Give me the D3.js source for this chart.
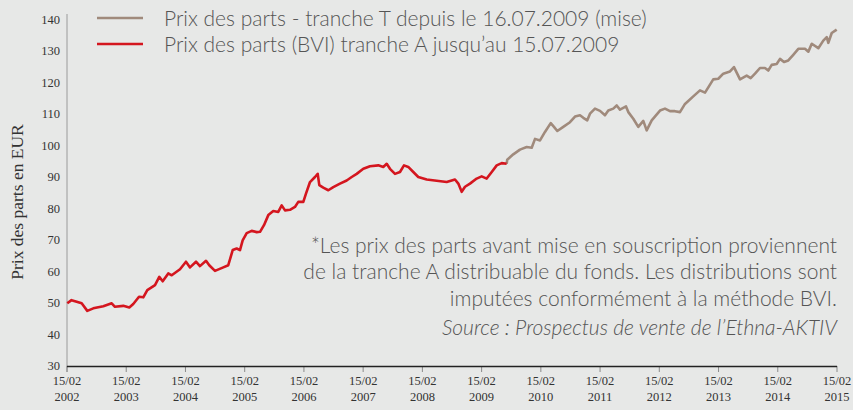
<!DOCTYPE html>
<html><head><meta charset="utf-8">
<script src="https://cdn.jsdelivr.net/npm/d3@7"></script>
<style>
html,body{margin:0;padding:0;background:#e7e8e7;}
svg{display:block;}
</style></head>
<body>
<svg id="chart" width="853" height="410"></svg>
<script>
// ---- Data (decimal years, values in EUR) ----
const redYears = [2002.128,2002.20,2002.287,2002.371,2002.466,2002.567,2002.736,2002.878,2002.933,2003.074,2003.175,2003.242,2003.339,2003.411,2003.479,2003.609,2003.681,2003.739,2003.833,2003.891,2004.031,2004.132,2004.200,2004.301,2004.368,2004.470,2004.525,2004.622,2004.762,2004.846,2004.921,2004.988,2005.044,2005.089,2005.157,2005.241,2005.326,2005.382,2005.449,2005.522,2005.606,2005.690,2005.748,2005.804,2005.888,2005.972,2006.028,2006.113,2006.158,2006.226,2006.310,2006.356,2006.383,2006.450,2006.535,2006.619,2006.732,2006.845,2006.930,2007.014,2007.126,2007.239,2007.379,2007.463,2007.521,2007.576,2007.661,2007.745,2007.813,2007.885,2007.970,2008.054,2008.196,2008.365,2008.534,2008.674,2008.730,2008.787,2008.843,2008.927,2009.040,2009.124,2009.209,2009.294,2009.378,2009.462,2009.546];
const redValues = [49.9,50.9,50.4,49.9,47.5,48.3,49.0,49.9,48.8,49.1,48.6,49.7,52.0,51.8,54.1,55.7,58.3,56.9,59.4,58.8,60.7,63.1,61.3,63.1,61.7,63.4,62.0,60.2,61.3,62.0,66.8,67.3,66.8,69.9,72.2,72.9,72.5,72.6,74.7,77.9,79.2,78.9,81.0,79.4,79.6,80.5,82.1,82.1,84.7,88.4,90.0,91.0,87.4,86.6,85.8,86.8,87.9,88.9,90.0,91.0,92.6,93.4,93.7,93.2,94.2,92.6,91.0,91.6,93.7,93.2,91.6,90.0,89.2,88.8,88.4,89.2,87.9,85.3,86.9,87.9,89.5,90.2,89.5,91.6,93.7,94.4,94.2];
const brownYears = [2009.546,2009.556,2009.658,2009.771,2009.884,2009.969,2010.025,2010.109,2010.193,2010.290,2010.345,2010.401,2010.502,2010.615,2010.700,2010.784,2010.840,2010.907,2010.953,2011.037,2011.122,2011.206,2011.262,2011.346,2011.404,2011.459,2011.561,2011.600,2011.684,2011.768,2011.853,2011.910,2011.995,2012.135,2012.219,2012.304,2012.388,2012.472,2012.557,2012.697,2012.810,2012.895,2013.034,2013.119,2013.203,2013.317,2013.384,2013.486,2013.598,2013.666,2013.739,2013.823,2013.907,2013.963,2014.021,2014.105,2014.161,2014.228,2014.301,2014.385,2014.470,2014.583,2014.640,2014.697,2014.808,2014.892,2014.950,2014.977,2015.034,2015.118];
const brownValues = [94.2,95.5,97.2,98.7,99.5,99.3,102.1,101.6,104.3,107.1,105.9,104.6,105.9,107.4,109.2,109.6,108.8,108.0,110.1,111.7,111.0,109.6,111.1,111.7,112.7,111.4,112.4,110.6,108.5,105.9,107.8,104.8,108.0,111.1,111.7,110.9,110.9,110.6,113.2,115.6,117.5,116.8,121.0,121.2,122.8,123.5,124.9,121.0,122.2,121.4,122.8,124.6,124.6,123.8,125.6,125.9,127.5,126.5,127.0,128.8,130.7,130.7,129.8,132.3,130.9,133.3,134.4,132.6,135.7,136.8];
const tickYears = [2002,2003,2004,2005,2006,2007,2008,2009,2010,2011,2012,2013,2014,2015];
const tickDay = "15/02";
const yTicks = [30,40,50,60,70,80,90,100,110,120,130,140];
const legendLabels = ["Prix des parts - tranche T depuis le 16.07.2009 (mise)", "Prix des parts (BVI) tranche A jusqu\u2019au 15.07.2009"];
const noteLines = ["*Les prix des parts avant mise en souscription proviennent", "de la tranche A distribuable du fonds. Les distributions sont", "imput\u00e9es conform\u00e9ment \u00e0 la m\u00e9thode BVI."];
const sourceLine = "Source : Prospectus de vente de l\u2019Ethna-AKTIV";
const yTitle = "Prix des parts en EUR";

// ---- Chart ----
(function () {
const RED = "#d4161f", BROWN = "#a08a7c";
const svg = d3.select("#chart");
const mLeft = 67, mRight = 837, mTop = 19.5, mBottom = 366;
const x = d3.scaleLinear().domain([2002 + 45/365, 2015 + 45/365]).range([mLeft, mRight]);
const y = d3.scaleLinear().domain([30, 140]).range([mBottom, mTop]);
const serif = "'Liberation Serif', 'DejaVu Serif', serif";
const sans = "Lato, 'Open Sans', sans-serif";

// Y axis line
svg.append("line").attr("x1", mLeft).attr("x2", mLeft).attr("y1", 14).attr("y2", mBottom + 6)
  .attr("stroke", "#9a9a9a").attr("stroke-width", 1);

// Y tick labels
svg.append("g").selectAll("text").data(yTicks).join("text")
  .attr("x", 60).attr("y", d => y(d)).attr("dy", "0.35em")
  .attr("text-anchor", "end").attr("font-family", serif).attr("font-size", 12.5)
  .attr("fill", "#333").text(d => d);

// X axis
const xAxis = svg.append("g");
xAxis.selectAll("line.tick").data(tickYears).join("line").attr("class", "tick")
  .attr("x1", d => x(d + 45/365)).attr("x2", d => x(d + 45/365))
  .attr("y1", mBottom).attr("y2", mBottom + 6).attr("stroke", "#8a8a8a").attr("stroke-width", 1);
xAxis.append("line").attr("x1", mLeft).attr("x2", mRight).attr("y1", mBottom + 0.5).attr("y2", mBottom + 0.5)
  .attr("stroke", "#222").attr("stroke-width", 1.3);
const tl = xAxis.selectAll("text.lab").data(tickYears).join("text").attr("class", "lab")
  .attr("text-anchor", "middle").attr("font-family", serif).attr("font-size", 12.5).attr("fill", "#333");
tl.append("tspan").attr("x", d => x(d + 45/365)).attr("y", 385).text(tickDay);
tl.append("tspan").attr("x", d => x(d + 45/365)).attr("y", 401).text(d => d);

// Y title
svg.append("text").attr("transform", "translate(23,202) rotate(-90)")
  .attr("text-anchor", "middle").attr("font-family", serif).attr("font-size", 17.5)
  .attr("fill", "#333").text(yTitle);

// Lines
const line = d3.line().x(d => x(d[0])).y(d => y(d[1])).curve(d3.curveLinear);
svg.append("path").datum(d3.zip(brownYears, brownValues)).attr("d", line)
  .attr("fill", "none").attr("stroke", BROWN).attr("stroke-width", 2.6).attr("stroke-linejoin", "round");
svg.append("path").datum(d3.zip(redYears, redValues)).attr("d", line)
  .attr("fill", "none").attr("stroke", RED).attr("stroke-width", 2.6).attr("stroke-linejoin", "round");

// Legend
const legColors = [BROWN, RED];
const leg = svg.append("g");
leg.selectAll("line").data(legendLabels).join("line")
  .attr("x1", 97).attr("x2", 143).attr("y1", (d, i) => 18 + i * 26).attr("y2", (d, i) => 18 + i * 26)
  .attr("stroke", (d, i) => legColors[i]).attr("stroke-width", 2.6);
leg.selectAll("text").data(legendLabels).join("text")
  .attr("x", 164).attr("y", (d, i) => 18 + i * 26).attr("dy", "0.36em")
  .attr("font-family", sans).attr("font-weight", 300).attr("font-size", 21).attr("fill", "#555").text(d => d);

// Note
svg.append("g").selectAll("text").data(noteLines).join("text")
  .attr("x", 837).attr("y", (d, i) => 245 + i * 26.5).attr("dy", "0.36em").attr("text-anchor", "end")
  .attr("font-family", sans).attr("font-weight", 300).attr("font-size", 21).attr("fill", "#555").text(d => d);
svg.append("text").attr("x", 837).attr("y", 327).attr("dy", "0.36em").attr("text-anchor", "end")
  .attr("font-family", sans).attr("font-weight", 300).attr("font-style", "italic").attr("font-size", 21)
  .attr("fill", "#555").text(sourceLine);
})();
</script>
</body></html>
